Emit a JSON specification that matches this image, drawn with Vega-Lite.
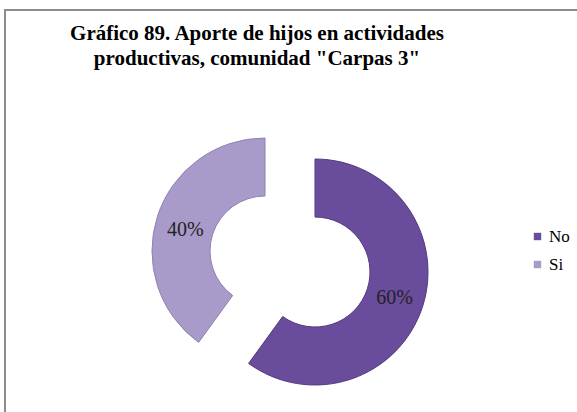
{
  "$schema": "https://vega.github.io/schema/vega-lite/v6.json",
  "autosize": {"type": "none"},
  "padding": {"left": 5, "top": 10, "right": -8, "bottom": -100},
  "width": 580,
  "height": 502,
  "background": "white",
  "view": {"stroke": "#8c8c8c", "strokeWidth": 2},
  "config": {"view": {"stroke": "#8c8c8c", "strokeWidth": 2}, "font": "'Liberation Serif', 'Times New Roman', 'DejaVu Serif', serif"},
  "title": {
    "text": ["Gráfico 89. Aporte de hijos en actividades", "productivas, comunidad \"Carpas 3\""],
    "font": "'Liberation Serif', 'Times New Roman', 'DejaVu Serif', serif",
    "fontSize": 21,
    "fontWeight": "bold",
    "color": "#000000",
    "anchor": "middle",
    "dx": -38,
    "offset": -59,
    "lineHeight": 25
  },
  "data": {"values": [{"cat": "No", "value": 0.6}, {"cat": "Si", "value": 0.4}]},
  "transform": [
    {"stack": "value", "groupby": [], "sort": [{"field": "cat", "order": "ascending"}], "as": ["v0", "v1"]}
  ],
  "layer": [
    {
      "transform": [{"filter": "datum.cat === 'No'"}],
      "mark": {"type": "arc", "outerRadius": 113, "innerRadius": 55, "xOffset": 20, "yOffset": 11, "stroke": "#56397F", "strokeWidth": 1},
      "encoding": {
        "theta": {"field": "v0", "type": "quantitative", "scale": {"domain": [0, 1]}},
        "theta2": {"field": "v1"},
        "color": {
          "field": "cat", "type": "nominal",
          "scale": {"domain": ["No", "Si"], "range": ["#6A4C9C", "#A89BC9"]},
          "legend": {"orient": "none", "legendX": 524, "legendY": 218, "title": null, "symbolType": "square", "symbolSize": 55, "symbolStrokeWidth": 0, "labelFont": "'Liberation Serif', 'Times New Roman', 'DejaVu Serif', serif", "labelFontSize": 17, "labelColor": "#000000", "rowPadding": 10, "labelOffset": 3}
        }
      }
    },
    {
      "transform": [{"filter": "datum.cat === 'Si'"}],
      "mark": {"type": "arc", "outerRadius": 113, "innerRadius": 55, "xOffset": -30, "yOffset": -10, "stroke": "#8F80B3", "strokeWidth": 1},
      "encoding": {
        "theta": {"field": "v0", "type": "quantitative", "scale": {"domain": [0, 1]}},
        "theta2": {"field": "v1"},
        "color": {"field": "cat", "type": "nominal"}
      }
    },
    {
      "mark": {"type": "text", "radius": 110, "xOffset": -5, "yOffset": 3, "font": "'Liberation Serif', 'Times New Roman', 'DejaVu Serif', serif", "fontSize": 20, "color": "#222222"},
      "encoding": {
        "theta": {"field": "value", "type": "quantitative", "stack": true, "scale": {"domain": [0, 1]}},
        "order": {"field": "cat", "type": "nominal", "sort": "ascending"},
        "text": {"field": "value", "type": "quantitative", "format": ".0%"}
      }
    }
  ]
}
